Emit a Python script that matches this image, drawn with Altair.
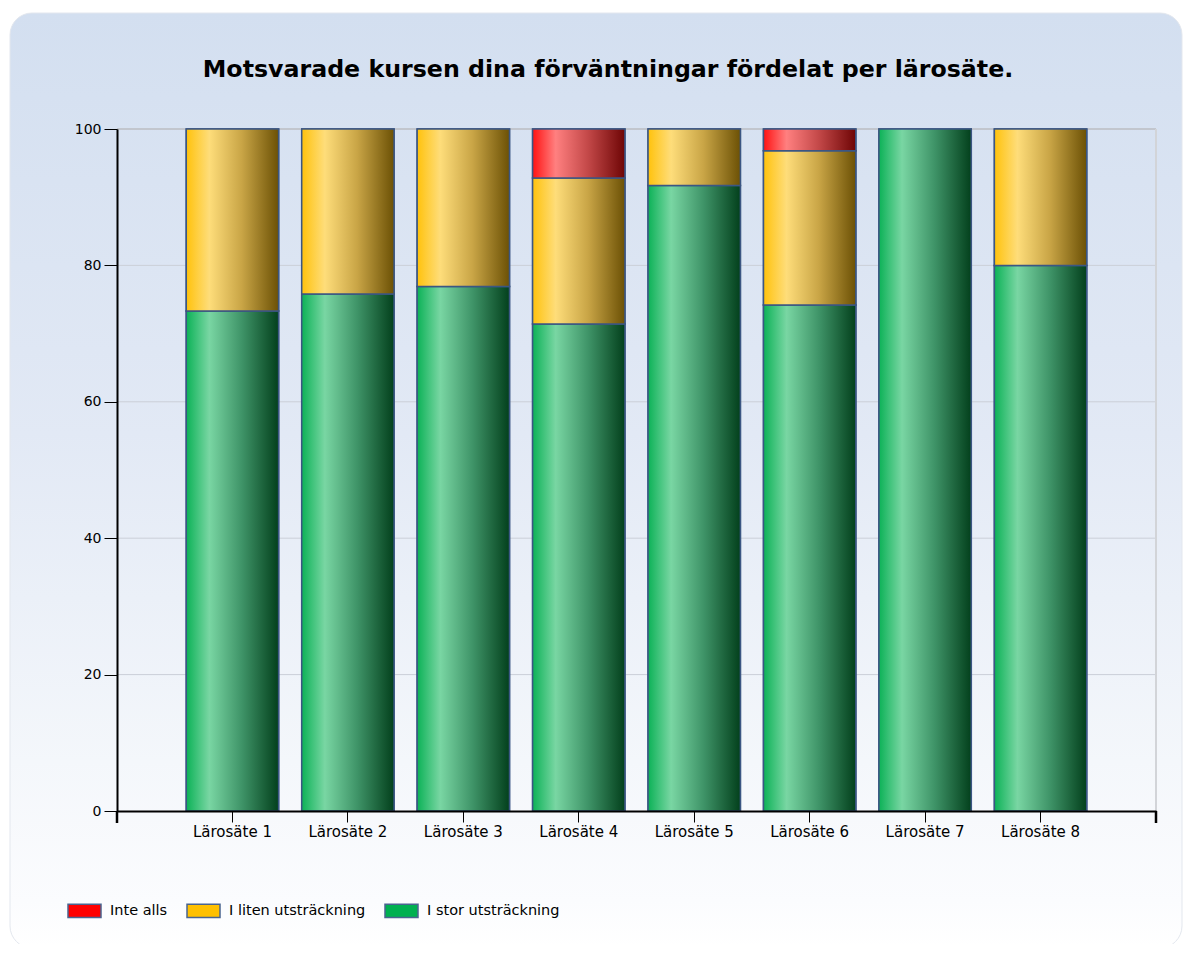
import altair as alt
import pandas as pd

categories = ["Lärosäte 1", "Lärosäte 2", "Lärosäte 3", "Lärosäte 4",
              "Lärosäte 5", "Lärosäte 6", "Lärosäte 7", "Lärosäte 8"]
series = ["Inte alls", "I liten utsträckning", "I stor utsträckning"]
stor = [73.3, 75.8, 76.9, 71.4, 91.7, 74.2, 100.0, 80.0]
liten = [26.7, 24.2, 23.1, 21.4, 8.3, 22.6, 0.0, 20.0]
inte = [0.0, 0.0, 0.0, 7.2, 0.0, 3.2, 0.0, 0.0]
y_ticks = [0, 20, 40, 60, 80, 100]
title_text = "Motsvarade kursen dina förväntningar fördelat per lärosäte."

solid_colors = ["#ff0000", "#ffc000", "#00b050"]

rows = []
for i, c in enumerate(categories):
    base = 0.0
    for s, vals in [("I stor utsträckning", stor), ("I liten utsträckning", liten), ("Inte alls", inte)]:
        v = vals[i]
        if v > 0:
            rows.append(dict(cat=c, series=s, y0=base, y1=min(base + v, 100.0), value=v))
        base += v
df = pd.DataFrame(rows)
grid_df = pd.DataFrame({"tick": y_ticks[1:-1]})
one = pd.DataFrame({"a": [0]})
title_df = pd.DataFrame({"t": [title_text]})

W, H = 1039, 682
FONT = "DejaVu Sans"


def hgrad(stops):
    return alt.LinearGradient(
        gradient="linear", x1=0, x2=1, y1=0, y2=0,
        stops=[alt.GradientStop(color=c, offset=o) for o, c in stops])


grads = {
    "I stor utsträckning": hgrad([(0, "#0cb257"), (0.25, "#79d6a3"), (0.6, "#3f9468"), (1, "#03401c")]),
    "I liten utsträckning": hgrad([(0, "#ffc20c"), (0.25, "#fedd7a"), (0.6, "#c9a546"), (1, "#6c5105")]),
    "Inte alls": hgrad([(0, "#ff1212"), (0.25, "#ff8080"), (0.6, "#c34848"), (1, "#6e0505")]),
}

bg_grad = alt.LinearGradient(
    gradient="linear", x1=0, x2=0, y1=0, y2=1,
    stops=[alt.GradientStop(color="#d3dff0", offset=0),
           alt.GradientStop(color="#e2e9f5", offset=0.45),
           alt.GradientStop(color="#f4f7fb", offset=0.8),
           alt.GradientStop(color="#fbfcfe", offset=0.95),
           alt.GradientStop(color="#ffffff", offset=1)])

x_scale = alt.Scale(domain=categories, paddingInner=0.2, paddingOuter=0.6)
y_scale = alt.Scale(domain=[0, 100], nice=False)
x_axis = alt.Axis(title=None, labelAngle=0, labelFont=FONT, labelFontSize=15,
                  labelColor="black", labelPadding=2, tickColor="black",
                  tickSize=11, tickWidth=1, domainColor="black", domainWidth=2,
                  grid=False, zindex=1)
y_axis = alt.Axis(title=None, values=y_ticks, labelFont=FONT, labelFontSize=14,
                  labelColor="black", labelPadding=3, tickColor="black",
                  tickSize=13, tickWidth=1, domainColor="black", domainWidth=2,
                  grid=False, zindex=1)

bg = alt.Chart(one).mark_rect(cornerRadius=22, fill=bg_grad, stroke="#e3e7ee",
                              strokeWidth=1).encode(
    x=alt.value(-107), x2=alt.value(1065), y=alt.value(-116), y2=alt.value(819))

grid = alt.Chart(grid_df).mark_rule(color="#cbcfd8", strokeWidth=1).encode(
    y=alt.Y("tick:Q", scale=y_scale, axis=y_axis))

top_border = alt.Chart(one).mark_rule(color="#c2c6ce", strokeWidth=2).encode(
    x=alt.value(0), x2=alt.value(W), y=alt.value(0))
right_border = alt.Chart(one).mark_rule(color="#d2d4d8", strokeWidth=2).encode(
    x=alt.value(W), y=alt.value(0), y2=alt.value(H))

base = alt.Chart(df).encode(
    x=alt.X("cat:N", sort=categories, scale=x_scale, axis=x_axis),
    y=alt.Y("y1:Q", scale=y_scale, axis=y_axis),
    y2="y0:Q",
)

solid = base.mark_bar(stroke="#3b5683", strokeWidth=1.5).encode(
    color=alt.Color("series:N", scale=alt.Scale(domain=series, range=solid_colors),
                    legend=alt.Legend(orient="none", legendX=-50, legendY=764,
                                      direction="horizontal", title=None,
                                      symbolType="M-1,-0.4L1,-0.4L1,0.4L-1,0.4Z",
                                      symbolSize=1089, symbolStrokeColor="#4a6490",
                                      symbolStrokeWidth=1.5, symbolOpacity=1,
                                      labelFont=FONT, labelFontSize=14.5,
                                      labelColor="black", labelOffset=8,
                                      columnPadding=16, padding=0)))

grad_layers = [
    base.transform_filter(alt.datum.series == s).mark_bar(
        fill=grads[s], stroke="#3b5683", strokeWidth=1.5)
    for s in ["I stor utsträckning", "I liten utsträckning", "Inte alls"]
]

end_left = alt.Chart(one).mark_rule(color="black", strokeWidth=2.5).encode(
    x=alt.value(0), y=alt.value(H), y2=alt.value(H + 12))
end_right = alt.Chart(one).mark_rule(color="black", strokeWidth=2.5).encode(
    x=alt.value(W), y=alt.value(H), y2=alt.value(H + 12))

title = alt.Chart(title_df).mark_text(font=FONT, fontSize=23.7, fontWeight="bold",
                                      align="center", baseline="alphabetic",
                                      color="black").encode(
    text="t:N", x=alt.value(491), y=alt.value(-52))

chart = alt.layer(bg, grid, top_border, right_border, solid, *grad_layers,
                  end_left, end_right, title).properties(
    width=W, height=H,
    padding={"left": 109, "top": 121, "right": 27, "bottom": 133},
    autosize="none",
    background="white",
).configure_view(stroke=None)

chart.save("out.html", embed_options={"renderer": "svg", "actions": False})
